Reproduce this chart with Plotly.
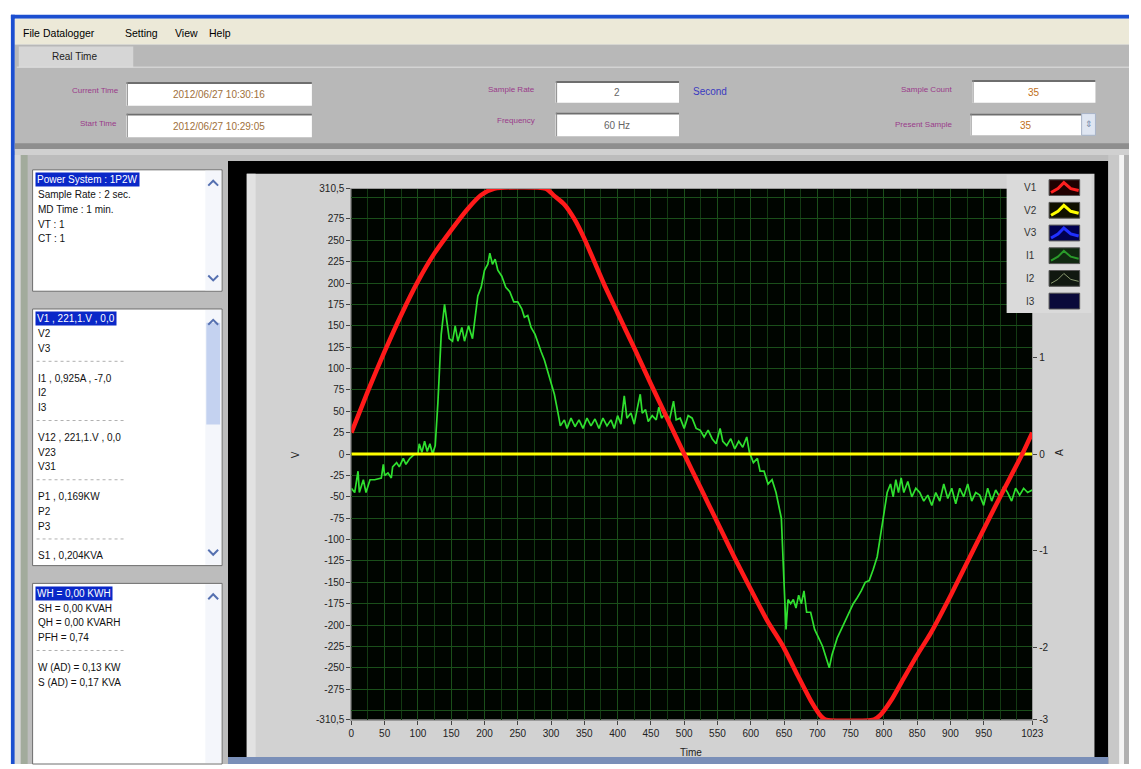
import plotly.graph_objects as go

# ---------------- data ----------------
V1_TIME = [0, 25, 50, 75, 100, 125, 150, 175, 195, 215, 292, 305, 320, 335, 350, 365, 380, 400, 425,
           450, 475, 500, 525, 550, 575, 600, 625, 648, 670, 690, 705, 712, 785, 795, 811, 830, 850,
           870, 900, 937, 974, 1008, 1023]
V1 = [25, 74, 120, 163, 202, 235, 262, 287, 303, 310.5, 310.5, 302, 292, 275, 252, 225, 198, 165, 124,
      82, 41, 0, -40, -80, -120, -158, -195, -224, -258, -288, -306, -310.5, -310.5, -305, -288, -262, -235,
      -210, -166, -108, -51, 0, 25]

V2_TIME = [0, 1023]
V2 = [0, 0]

I1_TIME = [0, 5, 10, 12, 18, 22, 28, 35, 45, 48, 50, 55, 60, 62, 68, 72, 78, 82, 88, 95, 100, 102, 106,
           110, 114, 118, 122, 126, 130, 135, 140, 143, 147, 152, 156, 160, 166, 170, 176, 182, 186, 190,
           195, 200, 205, 208, 212, 216, 220, 226, 232, 238, 244, 250, 256, 260, 265, 270, 276, 280, 285,
           290, 296, 300, 305, 310, 314, 320, 324, 330, 336, 342, 348, 354, 360, 366, 372, 378, 384, 390,
           395, 400, 405, 410, 414, 420, 425, 430, 434, 437, 442, 446, 452, 458, 462, 466, 472, 478, 484,
           488, 494, 500, 506, 512, 518, 524, 530, 536, 542, 548, 554, 558, 564, 570, 576, 582, 588, 594,
           598, 604, 610, 614, 620, 626, 632, 638, 642, 646, 650, 653, 656, 660, 664, 668, 672, 676, 680,
           684, 690, 696, 702, 708, 714, 718, 722, 726, 730, 736, 742, 748, 754, 760, 766, 772, 778, 784,
           790, 795, 800, 805, 810, 814, 818, 822, 826, 830, 836, 842, 848, 854, 860, 866, 872, 878, 884,
           890, 896, 902, 908, 914, 920, 926, 932, 938, 944, 950, 956, 962, 968, 974, 980, 986, 992, 998,
           1004, 1010, 1016, 1023]
I1 = [-40, -45, -20, -45, -30, -45, -30, -30, -28, -12, -25, -22, -28, -15, -10, -15, -5, -12, -5, 0, 0, 12, 2,
      15, 3, 12, 0, 10, 60, 140, 175, 160, 135, 132, 150, 132, 148, 132, 150, 135, 160, 185,
      195, 215, 222, 235, 222, 228, 215, 208, 195, 190, 178, 178, 170, 160, 162, 148, 140, 130, 120,
      110, 95, 85, 70, 50, 33, 40, 30, 42, 32, 40, 30, 42, 33, 41, 30, 42, 33, 40,
      30, 45, 35, 68, 42, 48, 35, 55, 70, 48, 52, 38, 45, 40, 55, 42, 48, 40, 62,
      40, 42, 30, 45, 42, 30, 28, 20, 28, 18, 12, 30, 15, 10, 18, 6, 15, 8, 20,
      2, -10, -5, -20, -20, -35, -30, -45, -60, -75, -150, -205, -170, -175, -170, -180, -165, -175, -160,
      -185, -185, -205, -215, -225, -240, -250, -235, -225, -215, -205, -195, -185, -175, -168, -160, -150, -148, -135,
      -120, -95, -70, -45, -35, -50, -30, -45, -28, -45, -32, -50, -40, -45, -55, -48, -60, -45, -55,
      -35, -52, -40, -58, -40, -50, -35, -55, -45, -48, -60, -40, -55, -42, -50, -38, -45, -55, -40,
      -48, -40, -45, -42]

X_TICKS = [0, 50, 100, 150, 200, 250, 300, 350, 400, 450, 500, 550, 600, 650, 700, 750, 800, 850, 900, 950, 1023]
X_LABELS = [str(v) for v in X_TICKS]
Y_TICKS = [-310.5, -275, -250, -225, -200, -175, -150, -125, -100, -75, -50, -25, 0,
           25, 50, 75, 100, 125, 150, 175, 200, 225, 250, 275, 310.5]
Y_LABELS = [("%g" % v).replace(".", ",") for v in Y_TICKS]
Y2_TICKS = [-2.745, -2, -1, 0, 1]
Y2_LABELS = ["-3", "-2", "-1", "0", "1"]

LEGEND_NAMES = ["V1", "V2", "V3", "I1", "I2", "I3"]
LEGEND_COLORS = ["#ff2020", "#ffff00", "#2030ff", "#2a9a2a", "#8a9a70", None]
LEGEND_BG = ["#200000", "#101000", "#000050", "#102810", "#101810", "#0a0a3a"]

FIELDS = [("Current Time", "2012/06/27 10:30:16"), ("Start Time", "2012/06/27 10:29:05")]
BOX1 = ["Power System : 1P2W", "Sample Rate : 2 sec.", "MD Time : 1 min.", "VT : 1", "CT : 1"]
BOX2 = ["V1 , 221,1.V , 0,0", "V2", "V3", "-", "I1 , 0,925A , -7,0", "I2", "I3", "-",
        "V12 , 221,1.V , 0,0", "V23", "V31", "-", "P1 , 0,169KW", "P2", "P3", "-", "S1 , 0,204KVA"]
BOX3 = ["WH = 0,00 KWH", "SH = 0,00 KVAH", "QH = 0,00 KVARH", "PFH = 0,74", "-",
        "W (AD) = 0,13 KW", "S (AD) = 0,17 KVA"]

# ---------------- helpers ----------------
W, H = 1141, 769
FONT = "Liberation Sans"
PLOT_L, PLOT_R, PLOT_T, PLOT_B = 353, 1043, 186, 724


def px(x):
    return x / W


def py(y):
    return 1 - y / H


shapes = []
annotations = []


def rect(x0, y0, x1, y1, fill, line=None, lw=1, layer="below"):
    shapes.append(dict(type="rect", xref="paper", yref="paper", x0=px(x0), x1=px(x1), y0=py(y1), y1=py(y0),
                       fillcolor=fill, line=dict(color=line or fill, width=lw if line else 0), layer=layer))


def hline(x0, x1, y, color, width=1, dash="solid", layer="below"):
    shapes.append(dict(type="line", xref="paper", yref="paper", x0=px(x0), x1=px(x1), y0=py(y), y1=py(y),
                       line=dict(color=color, width=width, dash=dash), layer=layer))


def vline(x, y0, y1, color, width=1, layer="below"):
    shapes.append(dict(type="line", xref="paper", yref="paper", x0=px(x), x1=px(x), y0=py(y0), y1=py(y1),
                       line=dict(color=color, width=width), layer=layer))


def path(points, color, width=2, layer="below"):
    d = "M " + " L ".join("%f,%f" % (px(a), py(b)) for a, b in points)
    shapes.append(dict(type="path", xref="paper", yref="paper", path=d, line=dict(color=color, width=width),
                       layer=layer))


def text(x, y, s, size=11, color="#111", anchor="left", angle=0):
    annotations.append(dict(x=px(x), y=py(y), xref="paper", yref="paper", text=s, showarrow=False,
                            xanchor=anchor, yanchor="middle", font=dict(family=FONT, size=size, color=color),
                            textangle=angle))


# ---------------- window chrome ----------------
rect(0, 0, W, H, "#ffffff")
rect(8, 10, W, 14, "#1c4fd0")
rect(8, 10, 12, H, "#1c4fd0")
rect(12, 14, W, 40, "#ece9d8")
for lbl, x in [("File", 18), ("Datalogger", 38), ("Setting", 122), ("View", 172), ("Help", 207)]:
    text(x, 28, lbl, 10.5, "#000")
rect(12, 40, W, 148, "#b8b8b8")
rect(16, 42, 132, 63, "#d6d6d6")
text(72, 52, "Real Time", 10, "#222", "center")
hline(14, W, 63, "#e0e0e0", 1)

LABEL_COL = "#9a3a8a"
VAL_COL = "#a0703a"


def field(x0, y0, x1, y1, val, col=VAL_COL):
    rect(x0, y0, x1, y1, "#ffffff")
    hline(x0, x1, y0 + 1, "#6e6e6e", 2)
    vline(x0 + 1, y0, y1, "#8a8a8a", 1)
    text((x0 + x1) / 2, (y0 + y1) / 2 + 1, val, 10, col, "center")


text(120, 87, FIELDS[0][0], 8, LABEL_COL, "right")
field(125, 78, 313, 102, FIELDS[0][1])
text(118, 120, FIELDS[1][0], 8, LABEL_COL, "right")
field(125, 110, 313, 134, FIELDS[1][1])
text(541, 86, "Sample Rate", 8, LABEL_COL, "right")
field(560, 77, 685, 99, "2", "#666")
text(697, 88, "Second", 10, "#3a3ac0")
text(541, 117, "Frequency", 8, LABEL_COL, "right")
field(560, 109, 685, 133, "60 Hz", "#666")
text(964, 86, "Sample Count", 8, LABEL_COL, "right")
field(982, 76, 1107, 99, "35", "#c07020")
text(964, 121, "Present Sample", 8, LABEL_COL, "right")
field(980, 110, 1093, 132, "35", "#c07020")
rect(1093, 110, 1107, 132, "#dfe6f2", "#a8b4c8")
text(1100, 121, "⇕", 9, "#7a8aa8", "center")

rect(12, 140, W, 146, "#8e8e8e")
rect(12, 146, W, 152, "#d0d0d0")
rect(12, 152, W, H, "#bcbcbc")
rect(12, 152, 18, H, "#d8d8d8")
rect(18, 152, 25, H, "#a2ab9c")


def listbox(y0, y1, lines, thumb=None):
    rect(30, y0, 222, y1, "#ffffff", "#6e6e6e", 1)
    rect(205, y0 + 1, 221, y1 - 1, "#f4f6fb")
    if thumb:
        rect(206, thumb[0], 220, thumb[1], "#c4d2f0")
    path([(208, y0 + 16), (213, y0 + 11), (218, y0 + 16)], "#5570b0", 2)
    if y1 < H - 5:
        path([(208, y1 - 16), (213, y1 - 11), (218, y1 - 16)], "#5570b0", 2)
    yy = y0 + 10
    for i, s in enumerate(lines):
        if s == "-":
            hline(34, 125, yy - 2, "#b0b0b0", 1, "dot")
            yy += 15
            continue
        if i == 0:
            annotations.append(dict(x=px(32), y=py(yy), xref="paper", yref="paper", text=s, showarrow=False,
                                    xanchor="left", yanchor="middle", bgcolor="#0a28c8",
                                    font=dict(family=FONT, size=10, color="#ffffff"), borderpad=1))
        else:
            text(33, yy, s, 10, "#111")
        yy += 15


listbox(167, 290, BOX1)
listbox(308, 568, BOX2, thumb=(322, 425))
listbox(586, H, BOX3)

# ---------------- chart frame ----------------
rect(228, 158, 1120, H, "#000000")
rect(247, 171, 1106, 762, "#d2d2d2")
rect(247, 171, 256, 762, "#e2e2e2")
rect(1120, 152, 1131, H, "#c8c8c8")
rect(1131, 152, 1136, H, "#f4f4f4")
rect(1136, 152, W, H, "#b0b0b0")
rect(228, 762, 1120, 769, "#7a8fb8")
rect(PLOT_L, PLOT_T, PLOT_R, PLOT_B, "#000500")   # plot background

text(296, 456, "V", 10, "#222", "center", -90)
text(1070, 453, "A", 10, "#222", "center", -90)
text(697, 757, "Time", 10, "#222", "center")

# ---------------- legend ----------------
rect(1017, 172, 1103, 312, "#dadada", layer="above")
for i, name in enumerate(LEGEND_NAMES):
    yc = 185 + i * 23
    text(1041, yc, name, 10, "#333", "center")
    rect(1060, yc - 8, 1091, yc + 8, LEGEND_BG[i], "#555555", 1, layer="above")
    if LEGEND_COLORS[i]:
        w = 3 if i < 3 else (2 if i == 3 else 1)
        path([(1062, yc + 5), (1069, yc + 1), (1075, yc - 5), (1082, yc + 1), (1090, yc + 3)],
             LEGEND_COLORS[i], w, layer="above")

# ---------------- traces ----------------
fig = go.Figure()
fig.add_trace(go.Scatter(x=I1_TIME, y=I1, mode="lines", name="I1",
                         line=dict(color="#2fe02f", width=1.7)))
fig.add_trace(go.Scatter(x=V2_TIME, y=V2, mode="lines", name="V2",
                         line=dict(color="#ffff00", width=3)))
fig.add_trace(go.Scatter(x=V1_TIME, y=V1, mode="lines", name="V1",
                         line=dict(color="#ff1a1a", width=4.5, shape="spline", smoothing=0.6)))
fig.add_trace(go.Scatter(x=[None], y=[None], yaxis="y2", showlegend=False, hoverinfo="skip"))

tickfont = dict(family=FONT, size=10, color="#222")
GRID = "#1a4f1a"
fig.update_layout(
    autosize=True, margin=dict(l=0, r=0, t=0, b=0, pad=0),
    paper_bgcolor="#ffffff", plot_bgcolor="#000000", showlegend=False,
    shapes=shapes, annotations=annotations,
    xaxis=dict(domain=[px(PLOT_L), px(PLOT_R)], range=[0, 1023], tickmode="array", tickvals=X_TICKS,
               ticktext=X_LABELS, tickfont=tickfont, ticks="outside", ticklen=4, tickcolor="#444",
               showgrid=True, gridcolor=GRID, gridwidth=1, zeroline=False,
               showline=True, linecolor="#9a9a9a", mirror=True,
               minor=dict(tick0=0, dtick=25, showgrid=True, gridcolor="#133a13", gridwidth=1)),
    yaxis=dict(domain=[py(PLOT_B), py(PLOT_T)], range=[-310.5, 310.5], tickmode="array", tickvals=Y_TICKS,
               ticktext=Y_LABELS, tickfont=tickfont, ticks="outside", ticklen=4, tickcolor="#444",
               showgrid=True, gridcolor=GRID, gridwidth=1, zeroline=False,
               showline=True, linecolor="#9a9a9a", mirror=True,
               minor=dict(tick0=0, dtick=25, showgrid=True, gridcolor=GRID, gridwidth=1)),
    yaxis2=dict(overlaying="y", side="right", anchor="x", range=[-2.745, 2.745], tickmode="array",
                tickvals=Y2_TICKS, ticktext=Y2_LABELS, tickfont=tickfont, ticks="outside", ticklen=4,
                tickcolor="#444", showgrid=False, zeroline=False),
)

fig.write_html("out.html", config={"displayModeBar": False, "responsive": True},
               default_width="100vw", default_height="100vh",
               post_script="document.documentElement.style.overflow='hidden';"
                           "document.body.style.margin='0px';document.body.style.overflow='hidden';")
